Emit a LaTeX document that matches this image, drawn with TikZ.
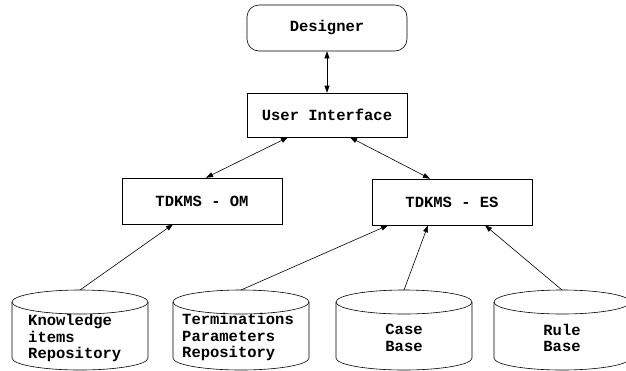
\documentclass[tikz,border=0pt]{standalone}
\usepackage{fontspec}
\setmonofont{Liberation Mono}
\usepackage{tikz}
\usetikzlibrary{arrows.meta, calc}

\tikzset{
	unitbox/.style={draw, line width=0.6pt, minimum width=160pt, minimum height=45pt, inner sep=0pt},
	dbtext/.style={align=left, inner sep=0pt},
	link/.style={line width=0.6pt}
}

% cylinder outline round a centre x
\newcommand{\dbcyl}[1]{%
	\draw[line width=0.6pt] (#1-68,302) -- (#1-68,358) arc (180:360:68pt and 12pt) -- (#1+68,302);
	\draw[line width=0.6pt] (#1,302) ellipse (68pt and 12pt);}

\begin{document}
\begin{tikzpicture}[x=1pt, y=-1pt, >={Triangle[length=7pt,width=5pt]}, font=\ttfamily\bfseries\fontsize{15.5}{16.5}\selectfont]
	\useasboundingbox (0,0) rectangle (626,370);

	\node[unitbox, rounded corners=12pt, minimum height=46pt] (des) at (327,28) {Designer};
	\node[unitbox, minimum height=44pt] (ui) at (327,115) {User Interface};
	\node[unitbox, minimum height=46pt] (om) at (202,201) {TDKMS - OM};
	\node[unitbox, minimum height=46pt] (es) at (452,202) {TDKMS - ES};

	\dbcyl{80} \dbcyl{241} \dbcyl{404} \dbcyl{562}
	\coordinate (kir) at (80,290); \coordinate (tpr) at (241,290);
	\coordinate (cb) at (404,290); \coordinate (rb) at (562,290);
	\node[dbtext, anchor=west] (kirt) at (28,338) {Knowledge\\items\\Repository};
	\node[dbtext, anchor=west] (tprt) at (182,337) {Terminations\\Parameters\\Repository};
	\node[dbtext, align=center] (cbt) at (404,338) {Case\\Base};
	\node[dbtext, align=center] (rbt) at (562,338) {Rule\\Base};

	\draw[link, <->] (des) -- (ui);
	\draw[link, <->] ([xshift=-39pt]ui.south) -- ([xshift=4pt]om.north);
	\draw[link, <->] ([xshift=23pt]ui.south) -- ([xshift=-22pt]es.north);
	\draw[link, ->] (kir) -- ([xshift=-29pt]om.south);
	\draw[link, ->] (tpr) -- ([xshift=-64pt]es.south);
	\draw[link, ->] (cb) -- ([xshift=-24pt]es.south);
	\draw[link, ->] (rb) -- ([xshift=33pt]es.south);
\end{tikzpicture}
\end{document}
